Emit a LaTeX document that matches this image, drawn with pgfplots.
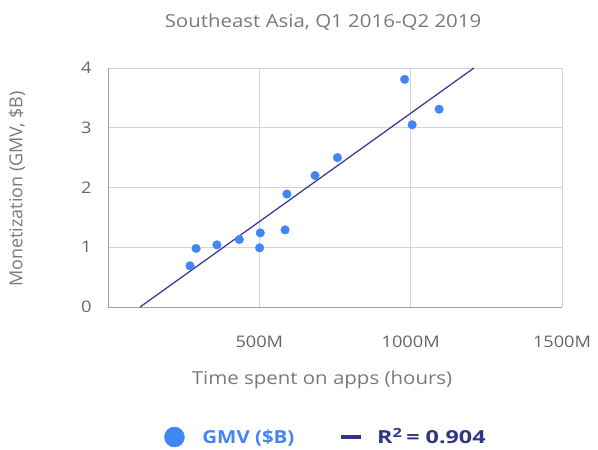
\documentclass[border=0pt]{standalone}
\usepackage{pgfplots}
\pgfplotsset{compat=1.18}
\usepackage{fontspec}
\setmainfont{Open Sans}
\definecolor{ptblue}{HTML}{4285F4}
\definecolor{navy}{HTML}{3C3F8F}
\definecolor{txtgray}{HTML}{7A7A7A}
\definecolor{tickgray}{HTML}{666666}
\definecolor{gridgray}{HTML}{D4D4D4}
\definecolor{axisgray}{HTML}{A0A0A0}
\definecolor{legnavy}{HTML}{2E3585}
\begin{document}
\begin{tikzpicture}
\useasboundingbox (-108bp,-143bp) rectangle (490bp,307bp);
\begin{axis}[
  at={(0,0)}, anchor=south west,
  scale only axis, width=454bp, height=239bp,
  xmin=0, xmax=1500, ymin=0, ymax=4,
  xtick={500,1000,1500}, xticklabels={500M,1000M,1500M},
  ytick={0,1,2,3,4},
  grid=major,
  major grid style={gridgray, line width=0.8pt},
  axis x line*=bottom, axis y line*=left,
  axis line style={axisgray, line width=1pt, -},
  major tick length=0pt,
  tick label style={font=\fontsize{16}{18}\selectfont, text=tickgray, xscale=1.14},
  xticklabel style={anchor=center, yshift=-35bp},
  yticklabel style={anchor=east, xshift=-11bp},
  /pgf/number format/assume math mode=true,
  legend style={at={(0.48,-0.544)}, anchor=center, draw=none, fill=none,
    legend columns=2, font=\fontsize{18}{20}\selectfont\bfseries,
    /tikz/every even column/.append style={column sep=43bp}},
  legend cell align=left,
  clip=false,
]
\addplot[only marks, mark=*, mark size=4.3bp, mark options={draw=ptblue, fill=ptblue},
  legend image code/.code={\fill[ptblue] (10bp,0bp) circle (10bp); \path[draw=none,fill=none] (0bp,0bp) rectangle (36bp,0.1bp);}]
  coordinates {
  (271,0.69) (291,0.98) (360,1.04) (434,1.13) (503,1.24) (501,0.99)
  (585,1.29) (591,1.89) (684,2.20) (758,2.50) (980,3.81) (1005,3.05) (1094,3.31)
  };
\addlegendentry{\scalebox{1.14}[1]{\textcolor{ptblue}{GMV (\$B)}}}
\addplot[navy, line width=1.3pt, legend image code/.code={\draw[legnavy, line width=3.5pt] (0bp,0bp) -- (20bp,0bp); \path[draw=none,fill=none] (0bp,0bp) rectangle (34bp,0.1bp);}]
  coordinates {(106,0) (1209,4)};
\addlegendentry{\scalebox{1.3}[1]{\textcolor{legnavy}{R\textsuperscript{2}\,= 0.904}}}
\end{axis}
\node[font=\fontsize{18}{21}\selectfont, text=txtgray, xscale=1.14] at (215bp,285bp) {Southeast Asia, Q1 2016-Q2 2019};
\node[font=\fontsize{18}{21}\selectfont, text=txtgray, rotate=90] at (-91bp,118bp) {Monetization (GMV, \$B)};
\node[font=\fontsize{18}{21}\selectfont, text=txtgray, xscale=1.14] at (214bp,-73bp) {Time spent on apps (hours)};
\end{tikzpicture}
\end{document}
